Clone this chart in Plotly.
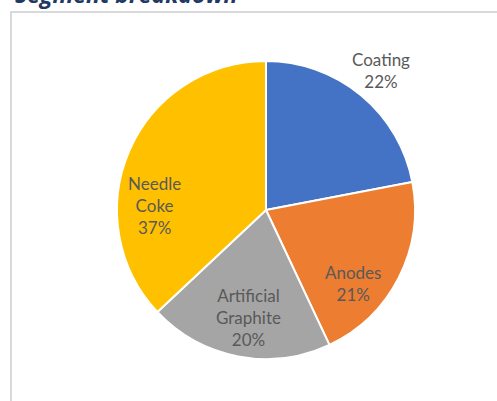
import plotly.graph_objects as go

W, H = 497, 401

# dados
segmentos = ['Coating', 'Anodes', 'Artificial Graphite', 'Needle Coke']
participacao = [22, 21, 20, 37]
cores = ['#4472C4', '#ED7D31', '#A5A5A5', '#FFC000']

# posicao dos rotulos em pixels (centro do bloco de texto)
label_pos = {
    'Coating': (381, 70),
    'Anodes': (353, 283),
    'Artificial Graphite': (248, 317),
    'Needle Coke': (154, 205),
}
quebra = {
    'Coating': 'Coating',
    'Anodes': 'Anodes',
    'Artificial Graphite': 'Artificial<br>Graphite',
    'Needle Coke': 'Needle<br>Coke',
}


def px(x, y):
    return x / W, 1 - y / H


cx, cy, r = 266, 210, 149

fig = go.Figure()

fig.add_trace(go.Pie(
    labels=segmentos,
    values=participacao,
    marker=dict(colors=cores, line=dict(color='white', width=2)),
    sort=False,
    direction='clockwise',
    rotation=0,
    textinfo='none',
    hoverinfo='label+percent',
    showlegend=False,
    domain=dict(x=[(cx - r) / W, (cx + r) / W], y=[1 - (cy + r) / H, 1 - (cy - r) / H]),
))

total = sum(participacao)
for seg, val in zip(segmentos, participacao):
    x, y = px(*label_pos[seg])
    fig.add_annotation(
        x=x, y=y, xref='paper', yref='paper',
        text=f"{quebra[seg]}<br>{val / total * 100:.0f}%",
        showarrow=False,
        font=dict(family='Lato', size=17, color='#595959'),
        align='center', xanchor='center', yanchor='middle',
    )

# titulo cortado no topo
fig.add_annotation(
    x=13 / W, y=1 - 12 / H, xref='paper', yref='paper',
    text='<b><i>Segment breakdown</i></b>',
    showarrow=False, xanchor='left', yanchor='bottom',
    font=dict(family='Open Sans', size=23, color='#1F3864'),
)

# moldura do grafico
fig.add_shape(
    type='rect', xref='paper', yref='paper',
    x0=11 / W, x1=1.02, y0=-0.02, y1=1 - 12 / H,
    line=dict(color='#D9D9D9', width=2),
)

fig.update_layout(
    width=W, height=H,
    margin=dict(l=0, r=0, t=0, b=0),
    paper_bgcolor='white',
    plot_bgcolor='white',
)

# tira a margem padrao do body para o grafico ocupar a janela toda
fig.write_html("out.html", config={'displayModeBar': False},
               post_script="document.body.style.margin='0';")
